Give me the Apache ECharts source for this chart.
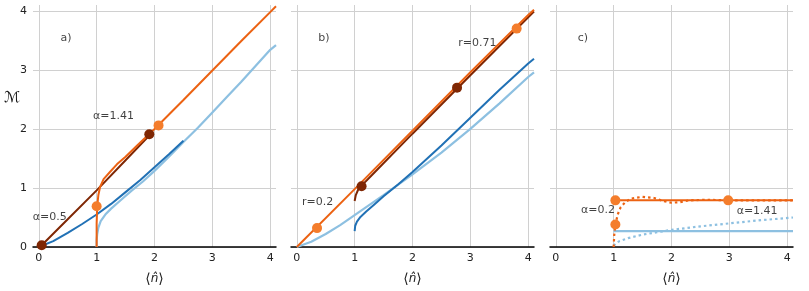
<!DOCTYPE html>
<html><head><meta charset="utf-8">
<script src="https://cdn.jsdelivr.net/npm/echarts@6/dist/echarts.min.js"></script>
<style>html,body{margin:0;padding:0;background:#fff}#c{width:809px;height:291px}</style>
</head><body><div id="c"></div>
<script>
// ---- data ----
const xTicks = [0, 1, 2, 3, 4];
const yTicks = [0, 1, 2, 3, 4];

// panel a
const aBrown = [[0.05,0.03],[0.5,0.47],[1,0.96],[1.5,1.47],[1.93,1.91]];
const aOrange = [[1,0],[1,0.4],[1.01,0.7],[1.03,0.88],[1.06,1.02],[1.12,1.15],[1.23,1.27],[1.35,1.4],[1.5,1.53],[1.7,1.72],[2,2.0],[2.5,2.49],[3,2.99],[3.5,3.49],[4,3.98],[4.1,4.08]];
const aDarkBlue = [[0,0],[0.25,0.1],[0.5,0.24],[0.75,0.39],[1,0.55],[1.25,0.73],[1.5,0.93],[1.75,1.13],[2,1.35],[2.25,1.57],[2.5,1.8]];
const aLightBlue = [[1,0],[1,0.12],[1.01,0.22],[1.03,0.33],[1.07,0.44],[1.15,0.55],[1.25,0.65],[1.4,0.78],[1.6,0.95],[1.8,1.11],[2,1.29],[2.25,1.53],[2.5,1.78],[2.75,2.02],[3,2.28],[3.25,2.54],[3.5,2.8],[3.75,3.07],[4,3.34],[4.1,3.42]];
const aBrownDots = [[0.05,0.03],[1.91,1.91]];
const aOrangeDots = [[1,0.69],[2.07,2.06]];

// panel b
const bOrange = [[0,0],[1,0.98],[2,1.97],[3,2.96],[4,3.93],[4.1,4.02]];
const bBrown = [[1,0.78],[1.02,0.88],[1.06,0.97],[1.12,1.04],[1.3,1.22],[2,1.92],[3,2.91],[4,3.89],[4.1,3.99]];
const bDarkBlue = [[1,0.27],[1.01,0.36],[1.04,0.43],[1.1,0.51],[1.2,0.6],[1.35,0.73],[1.5,0.86],[1.75,1.06],[2,1.27],[2.5,1.72],[3,2.19],[3.5,2.66],[4,3.11],[4.1,3.19]];
const bLightBlue = [[0,0],[0.25,0.09],[0.5,0.22],[0.75,0.37],[1,0.54],[1.5,0.88],[2,1.23],[2.5,1.6],[3,2.0],[3.5,2.43],[4,2.88],[4.1,2.96]];
const bOrangeDots = [[0.35,0.32],[3.8,3.7]];
const bBrownDots = [[1.12,1.03],[2.77,2.7]];

// panel c
const cOrange = [[1,0.79],[4.1,0.79]];
const cOrangeDotted = [[1,0],[1.01,0.2],[1.03,0.38],[1.07,0.55],[1.12,0.67],[1.2,0.76],[1.3,0.82],[1.5,0.85],[1.7,0.83],[1.85,0.78],[2,0.75],[2.15,0.76],[2.3,0.79],[2.6,0.8],[3,0.79],[3.5,0.79],[4.1,0.79]];
const cLightBlue = [[1,0.27],[4.1,0.27]];
const cLightBlueDotted = [[1,0.02],[1.05,0.07],[1.1,0.1],[1.25,0.15],[1.5,0.21],[1.75,0.25],[2,0.29],[2.5,0.35],[3,0.4],[3.5,0.45],[4.1,0.5]];
const cOrangeDots = [[1.03,0.79],[2.98,0.79],[1.03,0.38]];

// annotations [x, y, text]
const aNotes = [[0.47,3.54,'a)'],[0.19,0.5,'α=0.5'],[1.29,2.21,'α=1.41']];
const bNotes = [[0.47,3.54,'b)'],[0.36,0.76,'r=0.2'],[3.12,3.46,'r=0.71']];
const cNotes = [[0.47,3.54,'c)'],[0.73,0.62,'α=0.2'],[3.48,0.61,'α=1.41']];

// ---- style ----
const C = {brown:'#7f2704', orange:'#ec6212', orangeDot:'#f47d2c', dark:'#2171b5', light:'#8dc0e1'};
const FONT = 'DejaVu Sans';
const lefts = [33, 291, 550];

const chart = echarts.init(document.getElementById('c'));
const grids = lefts.map(l => ({left:l, width:243, top:5, height:243}));
const xAxes = lefts.map((l,i) => ({
  gridIndex:i, type:'value', min:-0.1, max:4.1,
  name:'{a|⟨}{b|n̂}{a|⟩}', nameLocation:'middle', nameGap:25,
  nameTextStyle:{fontFamily:FONT, color:'#222', rich:{
    a:{fontFamily:FONT, fontSize:14, color:'#222'},
    b:{fontFamily:FONT, fontSize:12, fontStyle:'italic', color:'#222'}}},
  axisLine:{show:true, onZero:false, lineStyle:{color:'#000', width:1.5}},
  axisTick:{show:false, customValues:xTicks},
  axisLabel:{customValues:xTicks, fontFamily:FONT, fontSize:11, color:'#222', margin:6},
  splitLine:{show:true, lineStyle:{color:'#d0d0d0', width:1}}
}));
const yAxes = lefts.map((l,i) => ({
  gridIndex:i, type:'value', min:0, max:4.1,
  axisLine:{show:false},
  axisTick:{show:false, customValues:yTicks},
  axisLabel:{show:i===0, customValues:yTicks, fontFamily:FONT, fontSize:11, color:'#222', margin:6},
  splitLine:{show:true, lineStyle:{color:'#d0d0d0', width:1}}
}));

function line(i, data, color, width, dotted, z) {
  return {type:'line', xAxisIndex:i, yAxisIndex:i, data, showSymbol:false, symbol:'none',
    lineStyle:{color, width, type: dotted ? [2.5,3] : 'solid'}, z: z||2, silent:true, animation:false};
}
function dots(i, data, color) {
  return {type:'scatter', xAxisIndex:i, yAxisIndex:i, data, symbolSize:10,
    itemStyle:{color, opacity:1}, z:5, silent:true, animation:false};
}
function notes(i, arr) {
  return {type:'scatter', xAxisIndex:i, yAxisIndex:i, symbolSize:0, z:6, silent:true, animation:false,
    data: arr.map(n => ({value:[n[0], n[1]], label:{show:true, formatter:n[2], position:'inside',
      fontFamily:FONT, fontSize:11, color:'#111'}}))};
}

const series = [
  line(0, aLightBlue, C.light, 2.2, false, 2),
  line(0, aDarkBlue, C.dark, 2, false, 3),
  line(0, aBrown, C.brown, 2, false, 3),
  line(0, aOrange, C.orange, 2, false, 4),
  dots(0, aBrownDots, C.brown),
  dots(0, aOrangeDots, C.orangeDot),
  notes(0, aNotes),

  line(1, bLightBlue, C.light, 2.2, false, 2),
  line(1, bDarkBlue, C.dark, 2, false, 3),
  line(1, bBrown, C.brown, 2, false, 3),
  line(1, bOrange, C.orange, 2, false, 4),
  dots(1, bBrownDots, C.brown),
  dots(1, bOrangeDots, C.orangeDot),
  notes(1, bNotes),

  line(2, cLightBlue, C.light, 2.2, false, 2),
  line(2, cLightBlueDotted, C.light, 2.2, true, 2),
  line(2, cOrangeDotted, C.orange, 2.2, true, 3),
  line(2, cOrange, C.orange, 2, false, 4),
  dots(2, cOrangeDots, C.orangeDot),
  notes(2, cNotes)
];

chart.setOption({
  animation:false,
  backgroundColor:'#fff',
  grid:grids, xAxis:xAxes, yAxis:yAxes, series,
  graphic:[{type:'text', left:4, top:91, style:{text:'ℳ', fontFamily:FONT, fontSize:15, fontStyle:'italic', fill:'#111'}}]
});
</script></body></html>
